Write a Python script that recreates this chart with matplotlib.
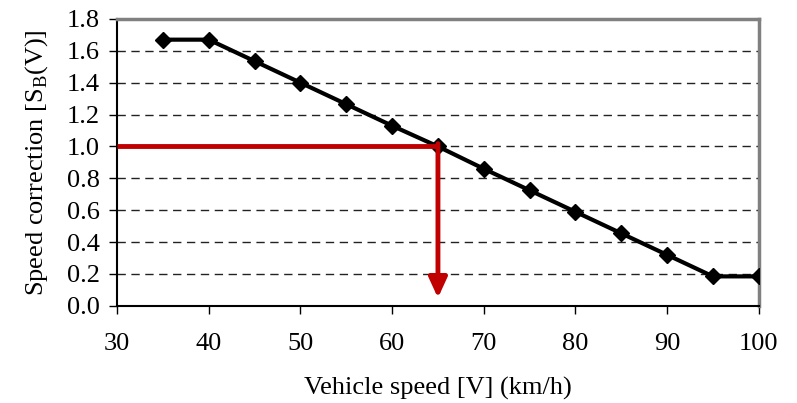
import numpy as np
import matplotlib
matplotlib.use("Agg")
import matplotlib.pyplot as plt

speed = [35, 40, 45, 50, 55, 60, 65, 70, 75, 80, 85, 90, 95, 100]
correction = [1.67, 1.67, 1.535, 1.40, 1.265, 1.13, 1.00, 0.86, 0.725, 0.59, 0.455, 0.32, 0.185, 0.185]
ref_speed = 65
ref_corr = 1.0
x_ticks = [30, 40, 50, 60, 70, 80, 90, 100]
y_ticks = [0.0, 0.2, 0.4, 0.6, 0.8, 1.0, 1.2, 1.4, 1.6, 1.8]

plt.rcParams["font.family"] = ["Liberation Serif", "DejaVu Serif"]
plt.rcParams["mathtext.fontset"] = "custom"
plt.rcParams["mathtext.rm"] = "Liberation Serif"

fig = plt.figure(figsize=(7.97, 4.03), dpi=100)
ax = fig.add_axes([0.147, 0.241, 0.805, 0.712])

for y in y_ticks[1:-1]:
    ax.axhline(y, color="#222222", linestyle=(0, (6, 4)), linewidth=1.0, zorder=1)

ax.plot(speed, correction, color="black", linewidth=3, marker="D",
        markersize=8.5, zorder=3)

ax.plot([30, ref_speed], [ref_corr, ref_corr], color="#c00000", linewidth=3.5,
        solid_capstyle="butt", zorder=4)
ax.annotate("", xy=(ref_speed, 0.05), xytext=(ref_speed, ref_corr + 0.018),
            arrowprops=dict(arrowstyle="-|>,head_width=0.55,head_length=1.2",
                            color="#c00000", linewidth=3.5, shrinkA=0, shrinkB=0),
            zorder=4)

ax.set_xlim(30, 100)
ax.set_ylim(0, 1.8)
ax.set_xticks(x_ticks)
ax.set_yticks(y_ticks)
ax.set_yticklabels([f"{v:.1f}" for v in y_ticks])
ax.tick_params(direction="out", length=5.5, labelsize=19, width=1)
ax.tick_params(axis="x", pad=14)
ax.tick_params(axis="y", pad=7)

for side in ["top", "right"]:
    ax.spines[side].set_color("#808080")
    ax.spines[side].set_linewidth(2.5)
for side in ["left", "bottom"]:
    ax.spines[side].set_linewidth(1.5)

ax.set_xlabel("Vehicle speed [V] (km/h)", fontsize=19, labelpad=16)
ax.set_ylabel(r"Speed correction [S$_\mathregular{B}$(V)]", fontsize=19, labelpad=12)

fig.savefig("out.png", dpi=100)
